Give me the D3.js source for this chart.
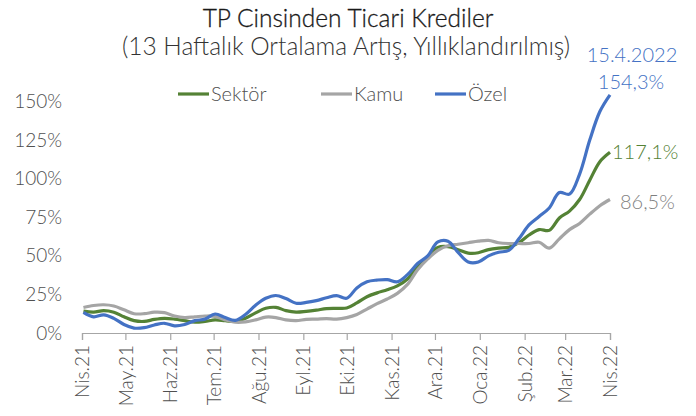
<!DOCTYPE html>
<html>
<head>
<meta charset="utf-8">
<script src="https://cdn.jsdelivr.net/npm/d3@7"></script>
<style>
  body { margin: 0; background: #fff; }
  svg { font-family: Lato, "Noto Sans", sans-serif; }
  .light { font-weight: 300; }
</style>
</head>
<body>
<script>
// weekly values, 16.4.2021 .. 15.4.2022
var sektor = [14.2, 13.5, 14.5, 13.5, 10.5, 8, 7.5, 8.8, 9.5, 9, 8, 7, 7.5, 8.5, 8, 7.5, 9.5, 13, 16, 16.6,
  14.5, 13.5, 14, 14.8, 15.8, 16, 16.2, 19.5, 23.5, 26, 28, 30.5, 35, 43, 49.5, 55.5, 56, 54, 51.8, 52,
  54, 55, 55.5, 58.5, 63.5, 67, 66.5, 74.5, 79, 86.5, 99, 111, 117.1];
var kamu = [16.5, 17.8, 18.3, 17.5, 15, 12.5, 12.5, 13.5, 13.2, 11, 10, 10.5, 11, 10.8, 8.5, 7, 7.2, 8.5, 10.3, 10,
  8.5, 8, 8.8, 9, 9.3, 9, 10, 12, 15.5, 19, 22, 25.7, 31.5, 41, 48, 53.5, 56.5, 57.5, 58.5, 59.5,
  60, 58.5, 58, 58, 58, 58.8, 55, 61, 67, 71, 77, 82.5, 86.5];
var ozel = [13.4, 10.5, 11.8, 9.5, 5.5, 3.2, 3.5, 5.2, 6.3, 4.6, 5.5, 8, 9, 12.3, 10, 8.2, 12, 18, 22.5, 24.3,
  22.3, 19.3, 19.8, 21, 22.8, 24.2, 22.5, 29.2, 33.2, 34.3, 34.6, 33.2, 37.8, 45, 50, 59, 59.5, 52.2, 46, 46,
  50, 52.3, 53.5, 61, 70, 75.5, 81, 91, 90, 103, 125, 143.5, 154.3];

var monthLabels = ["Nis.21", "May.21", "Haz.21", "Tem.21", "Ağu.21", "Eyl.21", "Eki.21",
  "Kas.21", "Ara.21", "Oca.22", "Şub.22", "Mar.22", "Nis.22"];
var yTicks = [0, 25, 50, 75, 100, 125, 150];

var seriesNames = ["Sektör", "Kamu", "Özel"];
var seriesColors = ["#548235", "#A5A5A5", "#4472C4"];
var endLabels = ["117,1%", "86,5%", "154,3%"];

var firstWeek = new Date(2021, 3, 16);
var dates = sektor.map(function(d, i) { return d3.timeDay.offset(firstWeek, 7 * i); });
var tickDates = monthLabels.map(function(d, i) { return new Date(2021, 3 + i, 15); });

var width = 696, height = 416;
var svg = d3.select("body").append("svg")
    .attr("width", width)
    .attr("height", height);

var x = d3.scaleTime()
    .domain([tickDates[0], tickDates[tickDates.length - 1]])
    .range([82, 610]);
var y = d3.scaleLinear()
    .domain([0, 150])
    .range([333, 101.5]);

// title
svg.append("text")
    .attr("class", "light")
    .attr("x", 348).attr("y", 27)
    .attr("text-anchor", "middle")
    .style("font-size", "24.5px")
    .style("fill", "#1a1a1a")
    .style("stroke", "#1a1a1a")
    .style("stroke-width", 0.3)
    .text("TP Cinsinden Ticari Krediler");
svg.append("text")
    .attr("class", "light")
    .attr("x", 346).attr("y", 55)
    .attr("text-anchor", "middle")
    .style("font-size", "24.5px")
    .style("fill", "#333")
    .text("(13 Haftalık Ortalama Artış, Yıllıklandırılmış)");

// y axis (labels only)
var yAxis = svg.append("g")
    .attr("transform", "translate(64,0)")
    .call(d3.axisLeft(y).tickValues(yTicks).tickSize(0).tickPadding(2)
        .tickFormat(function(d) { return d + "%"; }));
yAxis.select(".domain").remove();
yAxis.selectAll("text")
    .attr("class", "light")
    .style("font-size", "19px")
    .style("font-family", "Lato, sans-serif")
    .style("fill", "#505050");

// x axis
var xAxis = svg.append("g")
    .attr("transform", "translate(0,333)")
    .call(d3.axisBottom(x).tickValues(tickDates).tickSizeOuter(0).tickSize(7)
        .tickFormat(function(d, i) { return monthLabels[i]; }));
xAxis.select(".domain").attr("stroke", "#A6A6A6").attr("stroke-width", 1.2);
xAxis.selectAll(".tick line").attr("stroke", "#A6A6A6").attr("stroke-width", 1.2);
xAxis.selectAll("text")
    .attr("class", "light")
    .attr("transform", "rotate(-90)")
    .attr("x", -12).attr("y", 0).attr("dy", "0.35em")
    .style("text-anchor", "end")
    .style("font-size", "19px")
    .style("font-family", "Lato, sans-serif")
    .style("fill", "#505050");

// lines
var line = d3.line()
    .x(function(d, i) { return x(dates[i]); })
    .y(function(d) { return y(d); })
    .curve(d3.curveCatmullRom.alpha(0.5));

[sektor, kamu, ozel].forEach(function(values, k) {
  svg.append("path")
      .datum(values)
      .attr("fill", "none")
      .attr("stroke", seriesColors[k])
      .attr("stroke-width", 3.2)
      .attr("stroke-linejoin", "round")
      .attr("d", line);
});

// legend
var legendX = [178, 321, 435];
seriesNames.forEach(function(name, k) {
  var g = svg.append("g").attr("transform", "translate(" + legendX[k] + ",94)");
  g.append("line")
      .attr("x1", 0).attr("x2", 31)
      .attr("stroke", seriesColors[k])
      .attr("stroke-width", 3.2);
  g.append("text")
      .attr("class", "light")
      .attr("x", 33).attr("y", 7)
      .style("font-size", "20px")
      .style("fill", "#505050")
      .text(name);
});

// end labels
var last = dates.length - 1;
svg.append("text")
    .attr("class", "light")
    .attr("x", 632).attr("y", 62)
    .attr("text-anchor", "middle")
    .style("font-size", "20px")
    .style("fill", "#4472C4")
    .text("15.4.2022");
svg.append("text")
    .attr("class", "light")
    .attr("x", 631).attr("y", 89)
    .attr("text-anchor", "middle")
    .style("font-size", "20px")
    .style("fill", "#4472C4")
    .text(endLabels[2]);
svg.append("text")
    .attr("class", "light")
    .attr("x", x(dates[last]) + 2).attr("y", y(sektor[last]) + 7)
    .style("font-size", "20px")
    .style("fill", "#548235")
    .text(endLabels[0]);
svg.append("text")
    .attr("class", "light")
    .attr("x", x(dates[last]) + 10).attr("y", y(kamu[last]) + 9)
    .style("font-size", "20px")
    .style("fill", "#7F7F7F")
    .text(endLabels[1]);
</script>
</body>
</html>
